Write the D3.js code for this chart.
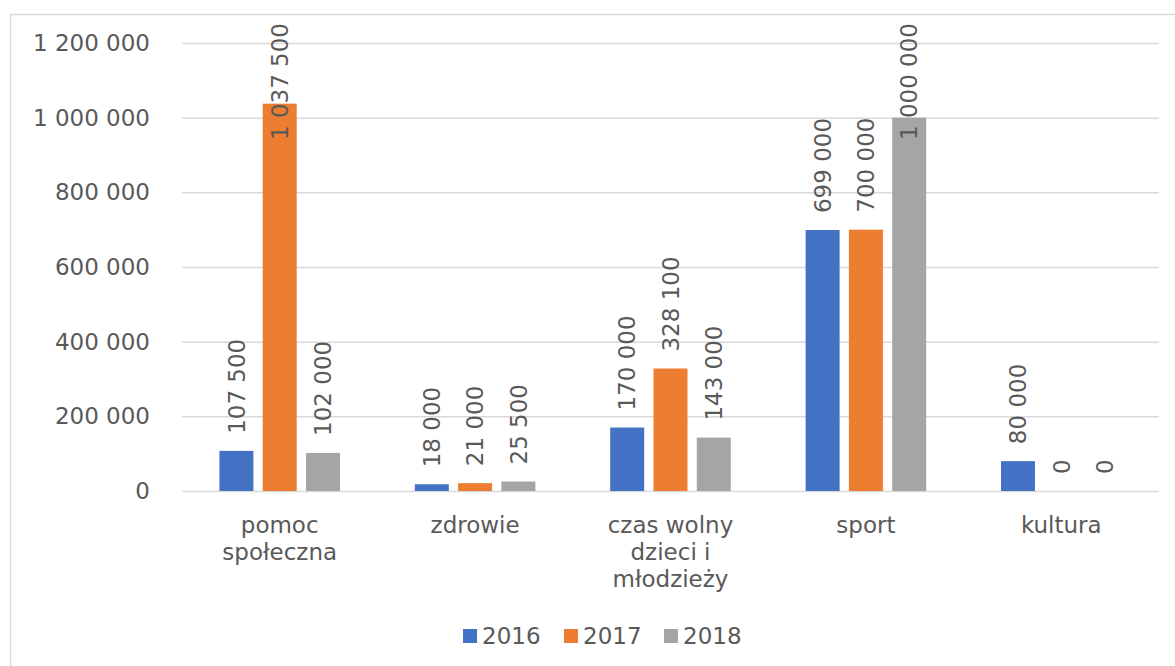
<!DOCTYPE html>
<html>
<head>
<meta charset="utf-8">
<script src="https://cdn.jsdelivr.net/npm/d3@7"></script>
<style>
  body { margin: 0; background: #fff; }
  svg { display: block; }
</style>
</head>
<body>
<svg id="chart" width="1175" height="666"></svg>
<script>
var categories = ["pomoc społeczna", "zdrowie", "czas wolny dzieci i młodzieży", "sport", "kultura"];
var seriesNames = ["2016", "2017", "2018"];
var values2016 = [107500, 18000, 170000, 699000, 80000];
var values2017 = [1037500, 21000, 328100, 700000, 0];
var values2018 = [102000, 25500, 143000, 1000000, 0];
var yTicks = [0, 200000, 400000, 600000, 800000, 1000000, 1200000];

var colors = ["#4472C4", "#ED7D31", "#A5A5A5"];
var series = [values2016, values2017, values2018];
var font = "'DejaVu Sans', Verdana, sans-serif";
var textColor = "#595959";
var fs = 23;

var svg = d3.select("#chart");

var plotLeft = 182, plotRight = 1159, plotTop = 43, plotBottom = 491;

var locale = d3.formatLocale({ decimal: ",", thousands: "\u00a0", grouping: [3], currency: ["", ""] });
var fmt = locale.format(",d");

// outer frame
svg.append("rect")
  .attr("x", 10.5).attr("y", 14.5)
  .attr("width", 1200).attr("height", 700)
  .attr("fill", "none").attr("stroke", "#d9d9d9").attr("stroke-width", 1.5);

var x0 = d3.scaleBand().domain(categories).range([plotLeft, plotRight]).padding(0);
var x1 = d3.scaleBand().domain(seriesNames).range([0, x0.bandwidth()])
  .paddingInner(0.215).paddingOuter(0.864);
var y = d3.scaleLinear().domain([0, 1200000]).range([plotBottom, plotTop]);

// gridlines
svg.append("g")
  .attr("transform", "translate(" + plotLeft + ",0)")
  .call(d3.axisLeft(y).tickValues(yTicks).tickSize(-(plotRight - plotLeft)).tickFormat(""))
  .call(function (g) { g.select(".domain").remove(); })
  .selectAll("line").attr("stroke", "#d9d9d9").attr("stroke-width", 1.5);

// y labels
var yAxis = svg.append("g")
  .attr("transform", "translate(150,0)")
  .call(d3.axisLeft(y).tickValues(yTicks).tickSize(0).tickPadding(0).tickFormat(fmt));
yAxis.select(".domain").remove();
yAxis.selectAll("text")
  .attr("fill", textColor).style("font-family", font).style("font-size", fs + "px");

// bars
var groups = svg.append("g").selectAll("g")
  .data(categories)
  .enter().append("g")
  .attr("transform", function (d) { return "translate(" + x0(d) + ",0)"; });

seriesNames.forEach(function (s, si) {
  groups.append("rect")
    .attr("x", x1(s))
    .attr("width", x1.bandwidth())
    .attr("y", function (d, i) { return y(series[si][i]); })
    .attr("height", function (d, i) { return y(0) - y(series[si][i]); })
    .attr("fill", colors[si]);
});

// data labels (outside end, pushed down if they would leave the chart)
seriesNames.forEach(function (s, si) {
  groups.append("text")
    .attr("fill", textColor)
    .style("font-family", font).style("font-size", fs + "px")
    .attr("dy", "0.36em")
    .text(function (d, i) { return fmt(series[si][i]); })
    .each(function (d, i) {
      var len = this.getComputedTextLength();
      var cx = x1(s) + x1.bandwidth() / 2;
      var start = Math.max(y(series[si][i]) - 17, 23 + len);
      d3.select(this).attr("transform", "translate(" + cx + "," + start + ") rotate(-90)");
    });
});

// category labels with wrapping
groups.append("text")
  .attr("fill", textColor)
  .attr("text-anchor", "middle")
  .style("font-family", font).style("font-size", fs + "px")
  .each(function (d) {
    var t = d3.select(this);
    var words = d.split(" "), lines = [], line = [];
    var probe = t.append("tspan");
    words.forEach(function (w) {
      line.push(w);
      probe.text(line.join(" "));
      if (probe.node().getComputedTextLength() > 175 && line.length > 1) {
        line.pop();
        lines.push(line.join(" "));
        line = [w];
      }
    });
    lines.push(line.join(" "));
    probe.remove();
    lines.forEach(function (l, k) {
      t.append("tspan").attr("x", x0.bandwidth() / 2).attr("y", 533 + k * 27).text(l);
    });
  });

// legend
var legendX = [463, 564, 664];
var legend = svg.append("g").selectAll("g")
  .data(seriesNames).enter().append("g")
  .attr("transform", function (d, i) { return "translate(" + legendX[i] + ",629)"; });
legend.append("rect").attr("width", 14).attr("height", 14)
  .attr("fill", function (d, i) { return colors[i]; });
legend.append("text")
  .attr("x", 19).attr("y", 15)
  .attr("fill", textColor)
  .style("font-family", font).style("font-size", fs + "px")
  .text(function (d) { return d; });
</script>
</body>
</html>
